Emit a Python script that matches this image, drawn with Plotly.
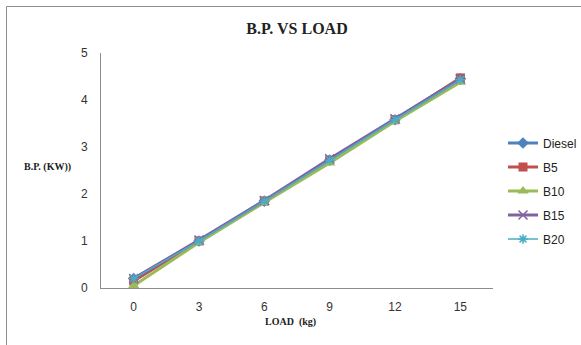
import plotly.graph_objects as go

loads = ["0", "3", "6", "9", "12", "15"]
diesel = [0.20, 1.00, 1.85, 2.72, 3.58, 4.45]
b5 = [0.15, 1.00, 1.85, 2.72, 3.58, 4.47]
b10 = [0.05, 0.97, 1.82, 2.66, 3.55, 4.38]
b15 = [0.20, 1.02, 1.86, 2.75, 3.60, 4.45]
b20 = [0.20, 1.00, 1.85, 2.72, 3.58, 4.43]

series = [
    ("Diesel", diesel, "#4F81BD", "diamond", 9, 3),
    ("B5", b5, "#C0504D", "square", 9, 3),
    ("B10", b10, "#9BBB59", "triangle-up", 10, 3),
    ("B15", b15, "#8064A2", "x-thin", 9, 3),
    ("B20", b20, "#4BACC6", "asterisk", 8, 1.5),
]

fig = go.Figure()
for name, vals, color, sym, size, lw in series:
    mk = dict(symbol=sym, size=size, color=color)
    if sym in ("x-thin", "asterisk"):
        mk["line"] = dict(color=color, width=1.5)
    fig.add_trace(go.Scatter(
        x=loads, y=vals, name=name, mode="lines+markers", legendgroup=name,
        line=dict(color=color, width=lw), marker=mk,
    ))

L, R, T, B = 101, 88, 53, 57
W, H = 581, 345
pw, ph = W - L - R, H - T - B

fig.update_layout(
    width=W, height=H,
    margin=dict(l=L, r=R, t=T, b=B, autoexpand=False),
    paper_bgcolor="white", plot_bgcolor="white",
    title=dict(text="<b>B.P. VS LOAD</b>", x=(L + pw / 2) / W, xanchor="center",
               y=1 - 28 / H, yanchor="middle",
               font=dict(family="Liberation Serif", size=16, color="#222")),
    xaxis=dict(type="category", range=[-0.5, 5.5], showgrid=False, showline=True,
               linecolor="#8c8c8c", linewidth=1, ticks="",
               tickfont=dict(family="Liberation Sans", size=12, color="#333"),
               ticklabelstandoff=8),
    yaxis=dict(range=[0, 5], dtick=1, showgrid=False, showline=True, linecolor="#8c8c8c",
               linewidth=1, ticks="", zeroline=False,
               tickfont=dict(family="Liberation Sans", size=12, color="#333"),
               ticklabelstandoff=10),
    legend=dict(x=(503 - L) / pw, y=(288 - 191) / ph, xanchor="left", yanchor="middle",
                font=dict(family="Liberation Sans", size=12, color="#222"),
                tracegroupgap=5, itemwidth=30),
    showlegend=True,
    annotations=[
        dict(text="<b>B.P. (KW))</b>", xref="paper", yref="paper",
             x=(22 - L) / pw, y=(288 - 167) / ph, xanchor="left", yanchor="middle",
             showarrow=False, font=dict(family="Liberation Serif", size=10, color="#222")),
        dict(text="<b>LOAD  (kg)</b>", xref="paper", yref="paper",
             x=(290 - L) / pw, y=(288 - 322) / ph, xanchor="center", yanchor="middle",
             showarrow=False, font=dict(family="Liberation Serif", size=10, color="#222")),
    ],
    shapes=[
        dict(type="rect", xref="paper", yref="paper",
             x0=(6.5 - L) / pw, x1=(590 - L) / pw,
             y0=(288 - 360) / ph, y1=(288 - 6.5) / ph,
             line=dict(color="#8c8c8c", width=1), fillcolor="rgba(0,0,0,0)", layer="below"),
    ],
)

fig.write_html("out.html")
